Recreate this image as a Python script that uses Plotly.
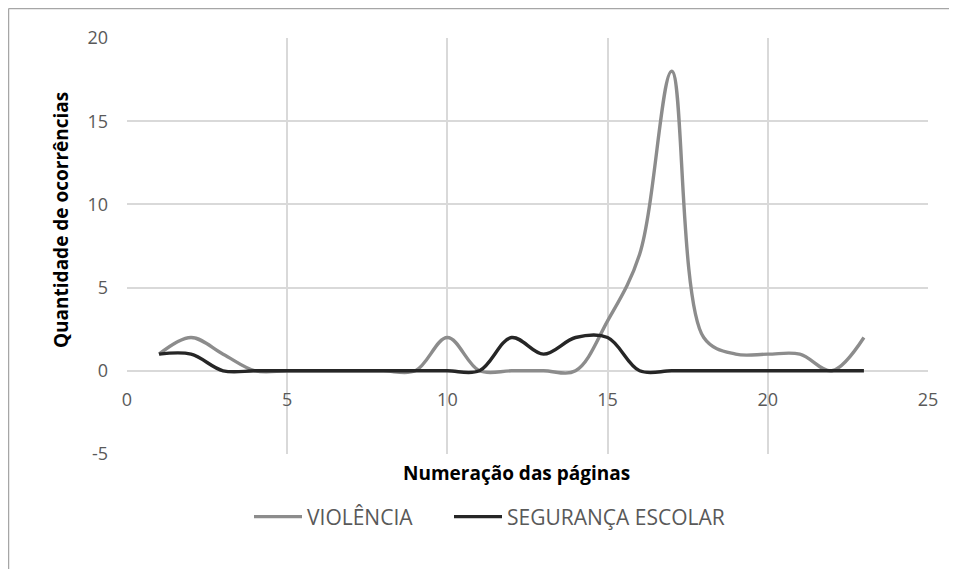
import plotly.graph_objects as go

pages = list(range(1, 24))
violencia = [1, 2, 1, 0, 0, 0, 0, 0, 0, 2, 0, 0, 0, 0, 3, 7, 18, 2, 1, 1, 1, 0, 2]
seguranca = [1, 1, 0, 0, 0, 0, 0, 0, 0, 0, 0, 2, 1, 2, 2, 0, 0, 0, 0, 0, 0, 0, 0]
x_ticks = [0, 5, 10, 15, 20, 25]
y_ticks = [-5, 0, 5, 10, 15, 20]
y_tick_labels = ["-5", "0", "5", "10", "15", "20"]

FONT = "Open Sans"
fig = go.Figure()
fig.add_trace(go.Scatter(x=pages, y=violencia, mode="lines", name="VIOLÊNCIA", legend="legend",
                         line=dict(color="#8c8c8c", width=3.4, shape="spline", smoothing=1)))
fig.add_trace(go.Scatter(x=pages, y=seguranca, mode="lines", name="SEGURANÇA ESCOLAR", legend="legend2",
                         line=dict(color="#262626", width=3.4, shape="spline", smoothing=1)))

# page body has an 8px margin; figure placed so the plot area lands at (127..928, 38..454)
W, H = 941, 561
L, T, R, B = 119, 30, 21, 115
pw, ph = W - L - R, H - T - B

def px(xp):
    return (xp - 8 - L) / pw

def py(yp):
    return 1 - (yp - 8 - T) / ph

legend_style = dict(orientation="h", xanchor="left", yanchor="middle", y=py(517),
                    font=dict(family=FONT, size=21, color="#595959"), itemwidth=48,
                    bgcolor="rgba(0,0,0,0)")

fig.update_layout(
    width=W, height=H,
    margin=dict(l=L, r=R, t=T, b=B),
    paper_bgcolor="white", plot_bgcolor="white",
    font=dict(family=FONT, size=18, color="#595959"),
    showlegend=True,
    legend=dict(x=px(249), **legend_style),
    legend2=dict(x=px(449), **legend_style),
    xaxis=dict(range=[0, 25], tickvals=x_ticks, showgrid=True, gridcolor="#d9d9d9", gridwidth=1.6,
               zeroline=False, showline=False, anchor="free", position=0.2,
               ticks="", ticklabelstandoff=16, tickfont=dict(family=FONT, size=18, color="#595959")),
    yaxis=dict(range=[-5, 20], tickvals=y_ticks, ticktext=y_tick_labels, showgrid=True,
               gridcolor="#d9d9d9", gridwidth=1.6,
               zeroline=False, showline=False, ticks="", ticklabelstandoff=18,
               tickfont=dict(family=FONT, size=18, color="#595959")),
    annotations=[
        dict(text="<b>Numeração das páginas</b>", xref="paper", yref="paper", x=px(516), y=py(473),
             xanchor="center", yanchor="middle", showarrow=False,
             font=dict(family=FONT, size=19, color="black")),
        dict(text="<b>Quantidade de ocorrências</b>", xref="paper", yref="paper", x=px(61), y=py(220),
             xanchor="center", yanchor="middle", showarrow=False, textangle=-90,
             font=dict(family=FONT, size=19, color="black")),
    ],
    shapes=[
        dict(type="line", xref="paper", yref="paper", x0=px(8.6), x1=px(960), y0=py(8.6), y1=py(8.6),
             line=dict(color="#a6a6a6", width=1.3)),
        dict(type="line", xref="paper", yref="paper", x0=px(8.6), x1=px(8.6), y0=py(600), y1=py(8.6),
             line=dict(color="#a6a6a6", width=1.3)),
    ],
)

fig.write_html("out.html")
